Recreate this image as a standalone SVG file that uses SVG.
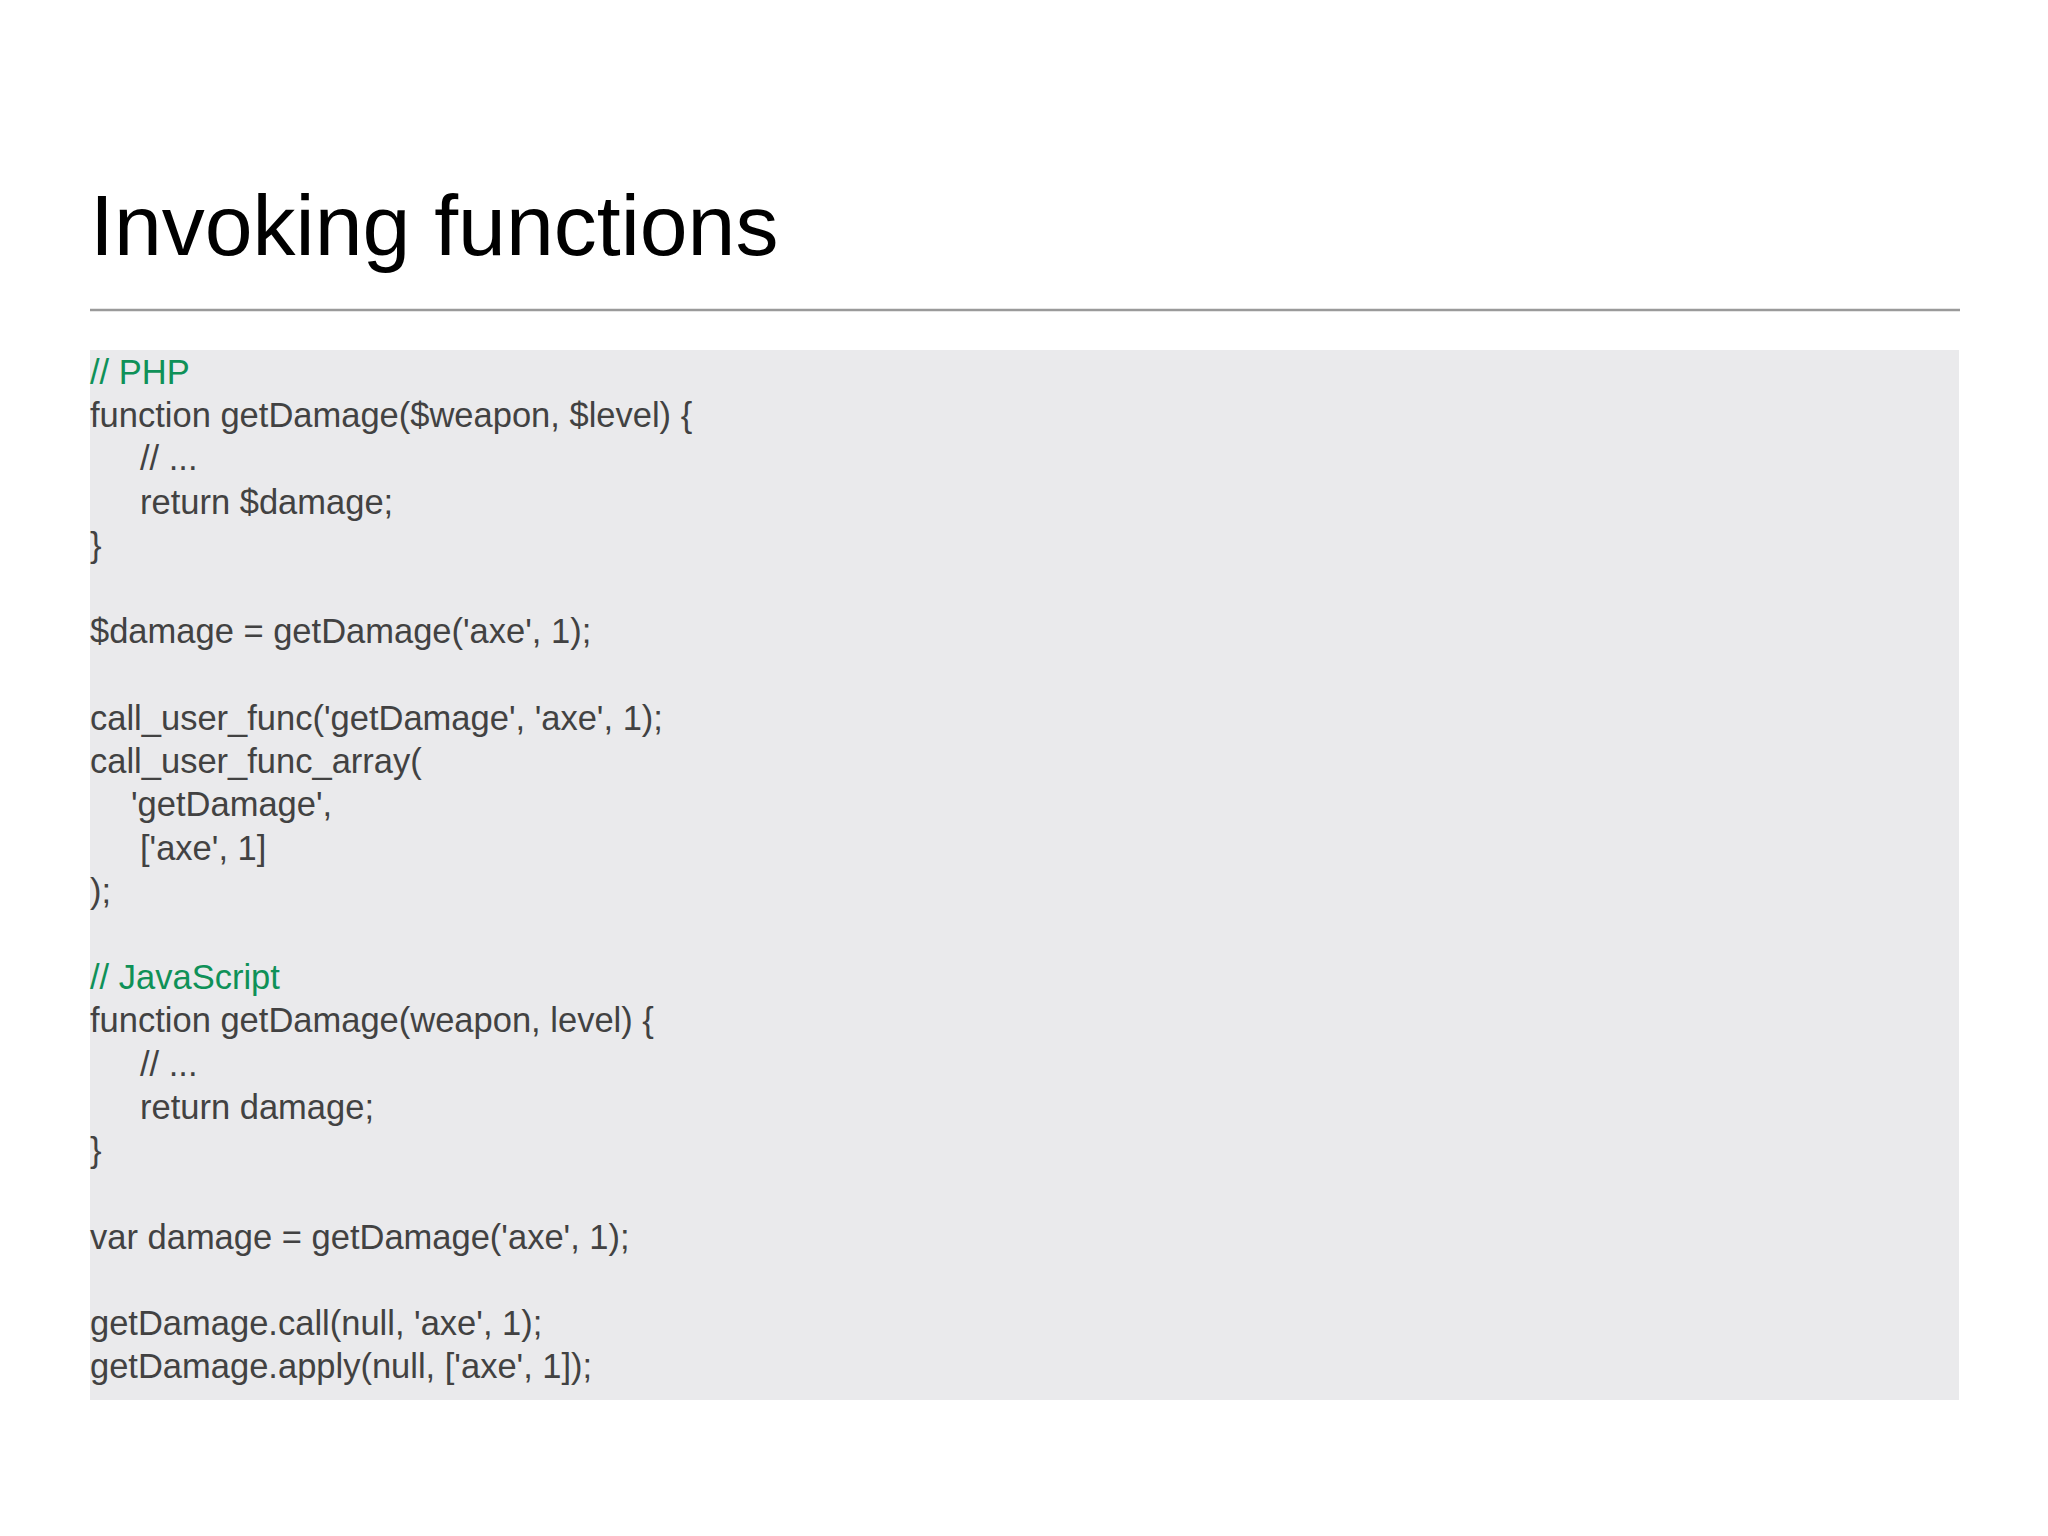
<svg xmlns="http://www.w3.org/2000/svg" width="2048" height="1536" viewBox="0 0 2048 1536">
<style>
.c{font-family:"Liberation Sans",Arial,sans-serif;font-size:34.5px;fill:#424242}
.g{fill:#0f9158}
</style>
<rect width="2048" height="1536" fill="#fff"/>
<text x="90" y="255" font-family="Liberation Sans,Arial,sans-serif" font-size="86" fill="#000">Invoking functions</text>
<line x1="90" y1="310" x2="1960" y2="310" stroke="#9a9a9a" stroke-width="2.5"/>
<rect x="90" y="350" width="1869" height="1050" fill="#eaeaec"/>
<g class="c">
<text x="90" y="384" class="c g">// PHP</text>
<text x="90" y="427">function getDamage($weapon, $level) {</text>
<text x="140" y="470">// ...</text>
<text x="140" y="514">return $damage;</text>
<text x="90" y="557">}</text>
<text x="90" y="643">$damage = getDamage('axe', 1);</text>
<text x="90" y="730">call_user_func('getDamage', 'axe', 1);</text>
<text x="90" y="773">call_user_func_array(</text>
<text x="131" y="816">'getDamage',</text>
<text x="140" y="860">['axe', 1]</text>
<text x="90" y="903">);</text>
<text x="90" y="989" class="c g">// JavaScript</text>
<text x="90" y="1032">function getDamage(weapon, level) {</text>
<text x="140" y="1076">// ...</text>
<text x="140" y="1119">return damage;</text>
<text x="90" y="1162">}</text>
<text x="90" y="1249">var damage = getDamage('axe', 1);</text>
<text x="90" y="1335">getDamage.call(null, 'axe', 1);</text>
<text x="90" y="1378">getDamage.apply(null, ['axe', 1]);</text>
</g>
</svg>
